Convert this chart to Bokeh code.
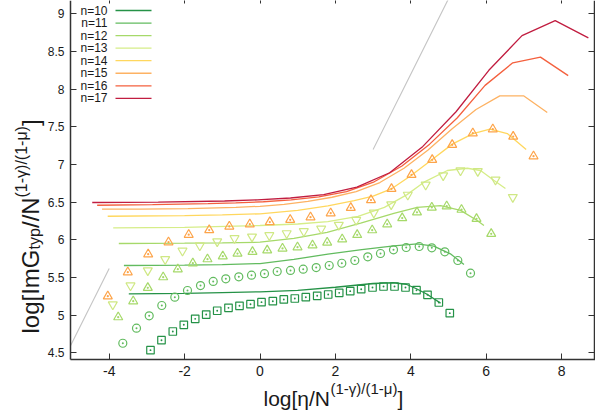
from bokeh.plotting import figure
from bokeh.models import Range1d, LinearAxis, Label, FixedTicker, CustomJSTickFormatter
from bokeh.embed import file_html
from bokeh.resources import INLINE

# ---------------- data ----------------
series_labels = ["n=10", "n=11", "n=12", "n=13", "n=14", "n=15", "n=16", "n=17"]
line_colors = ["#259247", "#62bb5f", "#a6d96a", "#d6ed88", "#ffd75e", "#fdb263", "#f4603e", "#c11d40"]

x10 = [-3.48, -2.0, -1.0, 0.0, 1.0, 2.0, 3.0, 3.53, 3.88, 4.15, 4.42, 4.79]
y10 = [5.283, 5.29, 5.30, 5.31, 5.33, 5.37, 5.42, 5.43, 5.41, 5.35, 5.28, 5.16]
x11 = [-3.61, -2.0, -1.0, 0.0, 0.9, 1.8, 2.7, 3.55, 4.17, 4.61, 5.05, 5.41]
y11 = [5.659, 5.663, 5.67, 5.685, 5.74, 5.81, 5.87, 5.92, 5.947, 5.915, 5.814, 5.672]
x12 = [-3.745, -2.0, -1.0, 0.0, 0.9, 1.78, 2.67, 3.55, 4.17, 4.79, 5.32, 5.76, 5.94]
y12 = [5.951, 5.955, 5.96, 5.968, 6.02, 6.10, 6.22, 6.35, 6.43, 6.455, 6.39, 6.256, 6.19]
x13 = [-3.894, -2.0, 0.0, 1.0, 1.8, 2.6, 3.3, 3.9, 4.35, 4.97, 5.5, 5.85, 6.2, 6.51]
y13 = [6.159, 6.165, 6.19, 6.21, 6.24, 6.31, 6.43, 6.60, 6.765, 6.92, 6.95, 6.92, 6.79, 6.68]
x14 = [-4.04, -2.0, -1.0, 0.0, 1.0, 1.8, 2.5, 3.0, 3.5, 4.0, 4.55, 5.1, 5.65, 6.1, 6.56, 7.06]
y14 = [6.313, 6.32, 6.33, 6.345, 6.39, 6.45, 6.52, 6.58, 6.68, 6.85, 7.06, 7.27, 7.41, 7.47, 7.41, 7.20]
x15 = [-4.19, -3.18, -1.91, -0.64, 0.0, 0.64, 1.27, 1.91, 2.55, 3.18, 3.82, 4.45, 5.09, 5.73, 6.36, 7.0, 7.62]
y15 = [6.406, 6.408, 6.415, 6.43, 6.445, 6.47, 6.51, 6.565, 6.64, 6.76, 6.95, 7.19, 7.47, 7.73, 7.91, 7.91, 7.69]
x16 = [-4.32, -2.85, -1.38, -0.645, 0.09, 0.825, 1.56, 2.295, 3.03, 3.765, 4.5, 5.235, 5.97, 6.705, 7.44, 8.175]
y16 = [6.459, 6.466, 6.48, 6.49, 6.505, 6.53, 6.57, 6.64, 6.77, 6.98, 7.27, 7.62, 8.05, 8.35, 8.425, 8.18]
x17 = [-4.45, -2.70, -0.94, -0.07, 0.81, 1.69, 2.57, 3.44, 4.32, 5.20, 6.07, 6.95, 7.83, 8.71]
y17 = [6.495, 6.50, 6.515, 6.53, 6.555, 6.60, 6.70, 6.89, 7.24, 7.70, 8.25, 8.71, 8.91, 8.68]

# simulation points
sq_x = [-2.905, -2.613, -2.313, -2.021, -1.719, -1.427, -1.135, -0.836, -0.544, -0.252, 0.040, 0.340, 0.631, 0.923,
        1.215, 1.517, 1.809, 2.101, 2.393, 2.684, 2.984, 3.276, 3.568, 3.859, 4.151, 4.443, 4.743, 5.034]
sq_y = [4.535, 4.667, 4.783, 4.872, 4.951, 5.008, 5.058, 5.097, 5.124, 5.145, 5.172, 5.185, 5.208, 5.221,
        5.238, 5.257, 5.274, 5.296, 5.318, 5.344, 5.367, 5.380, 5.380, 5.367, 5.331, 5.270, 5.168, 5.026]
ci_x = [-3.639, -3.276, -2.939, -2.605, -2.260, -1.923, -1.578, -1.241, -0.907, -0.562, -0.225, 0.119, 0.456, 0.809,
        1.146, 1.491, 1.836, 2.170, 2.515, 2.859, 3.196, 3.541, 3.878, 4.223, 4.557, 4.902, 5.247, 5.584]
ci_y = [4.627, 4.827, 4.991, 5.128, 5.238, 5.327, 5.393, 5.447, 5.482, 5.509, 5.530, 5.550, 5.579, 5.593,
        5.610, 5.632, 5.659, 5.689, 5.725, 5.774, 5.818, 5.867, 5.898, 5.911, 5.894, 5.841, 5.725, 5.557]
tu_x = [-3.761, -3.363, -2.976, -2.568, -2.180, -1.782, -1.393, -0.987, -0.597, -0.199, 0.191, 0.597, 0.995,
        1.393, 1.782, 2.180, 2.578, 2.976, 3.374, 3.772, 4.164, 4.557, 4.952, 5.345, 5.743, 6.133]
tu_y = [4.973, 5.185, 5.363, 5.504, 5.610, 5.689, 5.743, 5.782, 5.818, 5.841, 5.861, 5.885, 5.902,
        5.928, 5.964, 6.008, 6.066, 6.128, 6.207, 6.289, 6.365, 6.429, 6.446, 6.400, 6.279, 6.080]
td_x = [-3.905, -3.435, -2.976, -2.515, -2.056, -1.597, -1.135, -0.676, -0.212, 0.247, 0.708, 1.162,
        1.623, 2.090, 2.552, 3.019, 3.480, 3.920, 4.395, 4.859, 5.318, 5.777, 6.247, 6.706]
td_y = [5.141, 5.393, 5.593, 5.742, 5.854, 5.924, 5.978, 6.020, 6.041, 6.060, 6.086, 6.113,
        6.146, 6.197, 6.262, 6.359, 6.469, 6.597, 6.731, 6.854, 6.920, 6.911, 6.797, 6.566]
to_x = [-4.037, -3.507, -2.966, -2.427, -1.891, -1.347, -0.814, -0.271, 0.260, 0.801, 1.340, 1.875, 2.408,
        2.944, 3.488, 4.019, 4.568, 5.098, 5.645, 6.175, 6.716, 7.255]
to_y = [5.251, 5.570, 5.809, 5.968, 6.068, 6.130, 6.177, 6.207, 6.236, 6.266, 6.300, 6.353, 6.425,
        6.528, 6.677, 6.863, 7.062, 7.261, 7.415, 7.468, 7.371, 7.110]

# reference slope segments
g1_x = [-5.03, -4.0]
g1_y = [4.59, 5.62]
g2_x = [3.0, 5.0]
g2_y = [7.2, 9.2]

x_ticks = [-4, -2, 0, 2, 4, 6, 8]
y_ticks = [4.5, 5, 5.5, 6, 6.5, 7, 7.5, 8, 8.5, 9]

# plotted region (axis box) in data units
X_LO, X_HI = -5.027, 8.873
Y_LO, Y_HI = 4.411, 9.217

# ---------------- layout ----------------
W, H = 595, 410
PX0, PXS = 259.5, 37.7      # pixel of x=0, pixels per x unit
PY0, PYS = 352.3, 75.33     # pixel of y=4.5, pixels per y unit
FONT = "Liberation Sans"


def dx(px):
    return (px - PX0) / PXS


def dy(py):
    return 4.5 + (PY0 - py) / PYS


p = figure(width=W, height=H, x_range=Range1d(dx(0), dx(W)), y_range=Range1d(dy(H), dy(0)),
           output_backend="svg", toolbar_location=None, x_axis_location=None, y_axis_location=None,
           min_border=0, min_border_left=0, min_border_right=0, min_border_top=0, min_border_bottom=0)
p.outline_line_color = None
p.xgrid.visible = False
p.ygrid.visible = False
p.background_fill_color = "white"
p.border_fill_color = "white"

fmt = CustomJSTickFormatter(code="return String(Math.round(tick*10)/10)")
blank = CustomJSTickFormatter(code="return ''")


def make_axis(ticks, loc, bounds, formatter, fs):
    return LinearAxis(ticker=FixedTicker(ticks=ticks), formatter=formatter, fixed_location=loc, bounds=bounds,
                      major_tick_in=6, major_tick_out=0, minor_tick_in=0, minor_tick_out=0,
                      axis_line_width=1.5, axis_line_color="#333333",
                      major_tick_line_color="#333333", major_tick_line_width=1,
                      major_label_text_font=FONT, major_label_text_font_size=fs,
                      major_label_text_color="#1a1a1a", major_label_standoff=6)


bottom = make_axis(x_ticks, Y_LO, (X_LO, dx(W)), fmt, "14px")
left = make_axis(y_ticks, X_LO, (Y_LO, dy(0)), fmt, "12px")
right = make_axis(y_ticks, X_HI, (Y_LO, dy(0)), blank, "12px")
top = make_axis(x_ticks, Y_HI, (X_LO, X_HI), blank, "12px")
p.add_layout(bottom, "below")
p.add_layout(left, "left")
p.add_layout(right, "right")
p.add_layout(top, "above")

# gray guide lines
p.line(g1_x, g1_y, line_color="#c4c4c4", line_width=1.1)
p.line(g2_x, g2_y, line_color="#c4c4c4", line_width=1.1)

# theory curves
xs = [x10, x11, x12, x13, x14, x15, x16, x17]
ys = [y10, y11, y12, y13, y14, y15, y16, y17]
for xx, yy, c in zip(xs, ys, line_colors):
    p.line(xx, yy, line_color=c, line_width=1.3)

# simulation markers
p.scatter(sq_x, sq_y, marker="square_dot", size=7.5, fill_color=None, line_color="#259247", line_width=1.2)
p.scatter(ci_x, ci_y, marker="circle_dot", size=8, fill_color=None, line_color="#62bb5f", line_width=1.2)
p.scatter(tu_x, tu_y, marker="triangle_dot", size=9, fill_color=None, line_color="#a6d96a", line_width=1.2)
p.scatter(td_x, td_y, marker="inverted_triangle", size=9, fill_color=None, line_color="#cfe884", line_width=1.2)
p.scatter(to_x, to_y, marker="triangle_dot", size=9, fill_color=None, line_color="#fda44a", line_width=1.2)

# legend (label then sample line, gnuplot style)
for i, (lab, c) in enumerate(zip(series_labels, line_colors)):
    Y = 10 + 12.55 * i
    p.add_layout(Label(x=dx(107), y=dy(Y), text=lab, text_align="right", text_baseline="middle",
                       text_font=FONT, text_font_size="12px", text_color="#1a1a1a"))
    p.segment(x0=[dx(115)], y0=[dy(Y)], x1=[dx(151)], y1=[dy(Y)], line_color=c, line_width=1.3)


def lab(text, X, Y, size, angle=0):
    p.add_layout(Label(x=dx(X), y=dy(Y), text=text, text_font=FONT, text_font_size=f"{size}px",
                       angle=angle, angle_units="deg", text_align="left", text_baseline="alphabetic",
                       text_color="#1a1a1a"))


# x axis label: log[η/N^{(1-γ)/(1-μ)}]
lab("log[η/N", 263, 398, 21)
lab("(1-γ)/(1-μ)", 330, 388, 15)
lab("]", 397, 398, 21)

# y axis label: log[ImG_typ//N^{(1-γ)/(1-μ)}]
lab("log[ImG", 30, 333, 24, 90)
lab("typ", 34, 249, 16, 90)
lab("//N", 30, 227.5, 24, 90)
lab("(1-γ)/(1-μ)", 21, 197, 16, 90)
lab("]", 30, 125.5, 24, 90)

open("out.html", "w").write(file_html(p, INLINE))
